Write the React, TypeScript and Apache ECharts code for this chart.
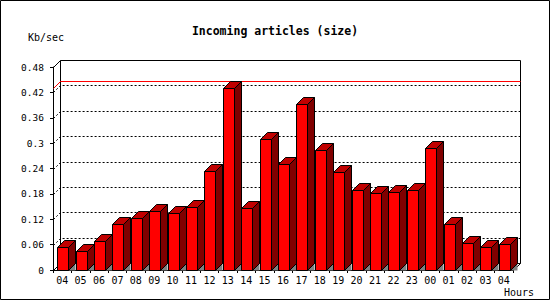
import React, { useEffect, useRef } from "react";
import * as echarts from "echarts";

const hours = ["04", "05", "06", "07", "08", "09", "10", "11", "12", "13", "14", "15", "16", "17", "18", "19", "20", "21", "22", "23", "00", "01", "02", "03", "04"];
const values = [0.054, 0.046, 0.069, 0.109, 0.122, 0.139, 0.135, 0.148, 0.233, 0.43, 0.147, 0.309, 0.251, 0.393, 0.284, 0.232, 0.188, 0.181, 0.184, 0.189, 0.289, 0.109, 0.064, 0.054, 0.062];
const gridValues = [0.06, 0.12, 0.18, 0.24, 0.3, 0.36, 0.42];
const yMin = 0;
const yMax = 0.48;
const yStep = 0.06;

const DEPTH = 7;
const FONT = "DejaVu Sans Mono";

const px = (v: number) => Math.round(v) + 0.5;

export default function App() {
  const ref = useRef<HTMLDivElement>(null);
  useEffect(() => {
    const chart = echarts.init(ref.current!, null, { renderer: "svg" });
    const maxVal = Math.max(...values);
    chart.setOption({
      animation: false,
      backgroundColor: "#ffffff",
      title: {
        text: "Incoming articles (size)",
        left: "center",
        top: 20,
        textStyle: { fontFamily: FONT, fontWeight: "bold", fontSize: 11.5, color: "#000" },
      },
      graphic: [
        {
          type: "rect",
          shape: { x: 0.5, y: 0.5, width: 549, height: 299 },
          style: { fill: "none", stroke: "#000", lineWidth: 1 },
          silent: true,
        },
        {
          type: "text",
          x: 28,
          y: 37,
          style: { text: "Kb/sec", fontFamily: FONT, fontSize: 10, fill: "#000", textVerticalAlign: "middle" },
        },
        {
          type: "text",
          x: 504,
          y: 292,
          style: { text: "Hours", fontFamily: FONT, fontSize: 10, fill: "#000", textVerticalAlign: "middle" },
        },
      ],
      grid: { left: 53, right: 37, top: 67, bottom: 30 },
      xAxis: {
        type: "category",
        data: hours,
        boundaryGap: true,
        axisLine: { show: true, lineStyle: { color: "#000", width: 1 } },
        axisTick: { show: true, length: 3, interval: 0, lineStyle: { color: "#000" } },
        axisLabel: { interval: 0, margin: 5, color: "#000", fontFamily: FONT, fontSize: 10 },
        splitLine: { show: false },
      },
      yAxis: {
        type: "value",
        min: yMin,
        max: yMax,
        interval: yStep,
        axisLine: { show: true, lineStyle: { color: "#000", width: 1 } },
        axisTick: { show: true, length: 3, lineStyle: { color: "#000" } },
        axisLabel: { margin: 9, color: "#000", fontFamily: FONT, fontSize: 9.5 },
        splitLine: { show: false },
      },
      series: [
        {
          type: "custom",
          name: "frame",
          silent: true,
          data: [[0, 0]],
          encode: { x: 0, y: 1 },
          renderItem: (params: any) => {
            const cs = params.coordSys;
            const x0 = px(cs.x);
            const x1 = px(cs.x + cs.width);
            const yT = px(cs.y);
            const yB = px(cs.y + cs.height);
            const line = { stroke: "#000", lineWidth: 1, fill: "none" };
            return {
              type: "group",
              children: [
                {
                  type: "rect",
                  shape: { x: x0 + DEPTH, y: yT - DEPTH, width: x1 - x0, height: yB - yT },
                  style: { fill: "#fff", stroke: "#000", lineWidth: 1 },
                },
                { type: "line", shape: { x1: x0, y1: yT, x2: x0 + DEPTH, y2: yT - DEPTH }, style: line },
                { type: "line", shape: { x1: x0, y1: yB, x2: x0 + DEPTH, y2: yB - DEPTH }, style: line },
                { type: "line", shape: { x1: x1, y1: yB, x2: x1 + DEPTH, y2: yB - DEPTH }, style: line },
              ],
            };
          },
          z: 1,
        },
        {
          type: "custom",
          name: "gridlines",
          silent: true,
          data: gridValues.map((v) => [0, v]),
          encode: { x: 0, y: 1 },
          renderItem: (params: any, api: any) => {
            const cs = params.coordSys;
            const x0 = px(cs.x);
            const x1 = px(cs.x + cs.width);
            const y = px(api.coord([0, api.value(1)])[1]);
            return {
              type: "polyline",
              shape: {
                points: [
                  [x0, y],
                  [x0 + DEPTH, y - DEPTH],
                  [x1 + DEPTH, y - DEPTH],
                ],
              },
              style: { stroke: "#000", lineWidth: 1, fill: "none", lineDash: [2, 2] },
            };
          },
          z: 2,
        },
        {
          type: "custom",
          name: "max",
          silent: true,
          data: [[0, maxVal]],
          encode: { x: 0, y: 1 },
          renderItem: (params: any, api: any) => {
            const cs = params.coordSys;
            const x0 = px(cs.x);
            const x1 = px(cs.x + cs.width);
            const y = px(api.coord([0, api.value(1)])[1]);
            return {
              type: "polyline",
              shape: {
                points: [
                  [x0, y],
                  [x0 + DEPTH, y - DEPTH],
                  [x1 + DEPTH, y - DEPTH],
                ],
              },
              style: { stroke: "#ff0000", lineWidth: 1, fill: "none" },
            };
          },
          z: 3,
        },
        {
          type: "custom",
          name: "Kb/sec",
          data: values.map((v, i) => [i, v]),
          encode: { x: 0, y: 1 },
          renderItem: (params: any, api: any) => {
            const idx = api.value(0);
            const v = api.value(1);
            const top = api.coord([idx, v]);
            const base = api.coord([idx, 0]);
            const x0 = px(top[0] - 5);
            const x1 = x0 + 11;
            const yt = px(top[1]);
            const yb = px(base[1]);
            const edge = { stroke: "#000", lineWidth: 1 };
            return {
              type: "group",
              children: [
                {
                  type: "polygon",
                  shape: { points: [[x1, yb], [x1 + DEPTH, yb - DEPTH], [x1 + DEPTH, yb]] },
                  style: { fill: "#808080", stroke: "none" },
                },
                {
                  type: "polygon",
                  shape: { points: [[x1, yt], [x1 + DEPTH, yt - DEPTH], [x1 + DEPTH, yb - DEPTH], [x1, yb]] },
                  style: { fill: "#800000", ...edge },
                },
                {
                  type: "polygon",
                  shape: { points: [[x0, yt], [x0 + DEPTH, yt - DEPTH], [x1 + DEPTH, yt - DEPTH], [x1, yt]] },
                  style: { fill: "#c00000", ...edge },
                },
                {
                  type: "rect",
                  shape: { x: x0, y: yt, width: x1 - x0, height: yb - yt },
                  style: { fill: "#ff0000", ...edge },
                },
              ],
            };
          },
          z: 4,
        },
      ],
    });
    return () => chart.dispose();
  }, []);
  return <div ref={ref} style={{ position: "fixed", left: 0, top: 0, width: 550, height: 300 }} />;
}
